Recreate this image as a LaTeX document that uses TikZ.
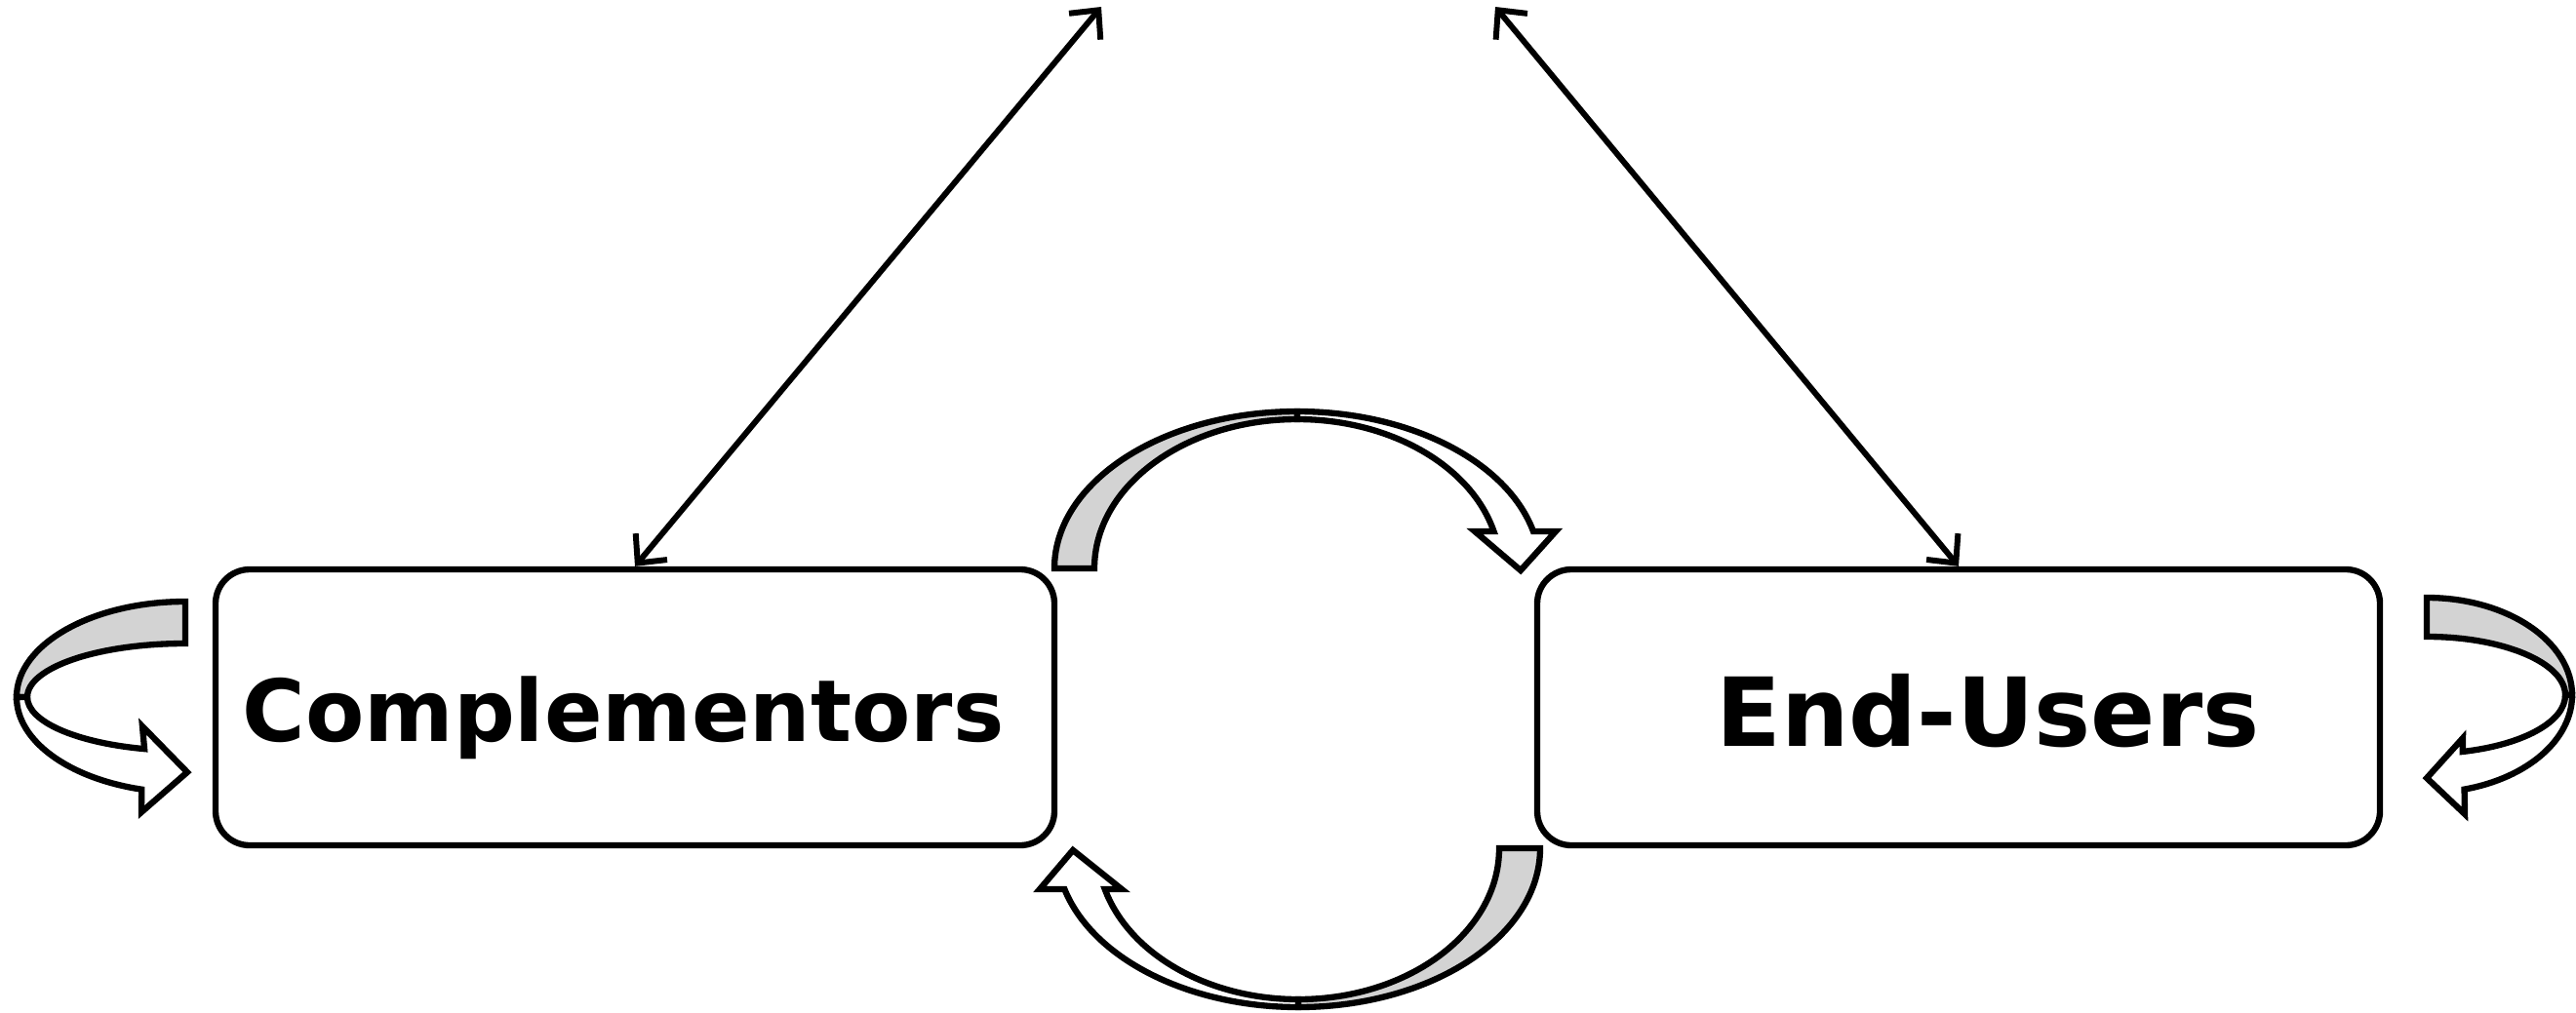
\documentclass[tikz,border=0pt]{standalone}
\usepackage{fontspec}
\setmainfont{DejaVu Sans}
\usetikzlibrary{arrows.meta}
\definecolor{bandgray}{RGB}{211,211,211}

\begin{document}
\begin{tikzpicture}[
    party/.style={draw, line width=1.8pt, rounded corners=0.35cm, minimum height=2.83cm},
    partyname/.style={anchor=base},
    link/.style={<->, >={Straight Barb[length=0.22cm,width=0.42cm]}, line width=1.7pt},
    bandback/.style={draw, line width=1.8pt, fill=bandgray},
    bandfront/.style={draw, line width=1.8pt, fill=white}]
    \useasboundingbox (0,0) rectangle (26.41,10.38);
    % the two sides
    \node[party, minimum width=8.60cm] (comp) at (6.51,3.125) {};
    \node[party, minimum width=8.64cm] (users) at (20.08,3.125) {};
    \node[partyname, font=\bfseries\fontsize{25}{30}\selectfont] (comptext) at (6.39,2.78) {Complementors};
    \node[partyname, font=\bfseries\fontsize{27.8}{34}\selectfont] (userstext) at (20.38,2.73) {End-Users};
    % links to the top
    \coordinate (topL) at (11.29,10.31);
    \coordinate (topR) at (15.33,10.31);
    \draw[link] (comp.north) -- (topL);
    \draw[link] (users.north) -- (topR);
    % self loop, left
    \coordinate (cL) at (1.90,3.23);
    \draw[bandback] ([shift={(cL)}]90:1.73 and 0.98) arc[start angle=90, end angle=180, x radius=1.73, y radius=0.98]
        -- ([shift={(cL)}]180:1.62 and 0.55) arc[start angle=180, end angle=90, x radius=1.62, y radius=0.55] -- cycle;
    \draw[bandfront] ([shift={(cL)}]180:1.73 and 0.98) arc[start angle=180, end angle=255, x radius=1.73, y radius=0.98]
        -- (1.45,2.05) -- (1.92,2.46) -- (1.46,2.93)
        -- ([shift={(cL)}]255:1.62 and 0.55) arc[start angle=255, end angle=180, x radius=1.62, y radius=0.55] -- cycle;
    % self loop, right
    \coordinate (cR) at (24.88,3.25);
    \draw[bandback] ([shift={(cR)}]90:1.49 and 1.00) arc[start angle=90, end angle=0, x radius=1.49, y radius=1.00]
        -- ([shift={(cR)}]0:1.42 and 0.60) arc[start angle=0, end angle=90, x radius=1.42, y radius=0.60] -- cycle;
    \draw[bandfront] ([shift={(cR)}]0:1.49 and 1.00) arc[start angle=0, end angle=-75, x radius=1.49, y radius=1.00]
        -- (25.27,2.03) -- (24.88,2.40) -- (25.25,2.81)
        -- ([shift={(cR)}]-75:1.42 and 0.60) arc[start angle=-75, end angle=0, x radius=1.42, y radius=0.60] -- cycle;
    % arc over the top
    \coordinate (cT) at (13.30,4.55);
    \draw[bandback] ([shift={(cT)}]180:2.49 and 1.61) arc[start angle=180, end angle=90, x radius=2.49, y radius=1.61]
        -- ([shift={(cT)}]90:2.08 and 1.53) arc[start angle=90, end angle=180, x radius=2.08, y radius=1.53] -- cycle;
    \draw[bandfront] ([shift={(cT)}]90:2.49 and 1.61) arc[start angle=90, end angle=13.65, x radius=2.49, y radius=1.61]
        -- (15.95,4.93) -- (15.59,4.53) -- (15.12,4.93)
        -- ([shift={(cT)}]14.38:2.08 and 1.53) arc[start angle=14.38, end angle=90, x radius=2.08, y radius=1.53] -- cycle;
    % arc under the bottom
    \coordinate (cB) at (13.31,1.68);
    \draw[bandback] ([shift={(cB)}]0:2.48 and 1.63) arc[start angle=0, end angle=-90, x radius=2.48, y radius=1.63]
        -- ([shift={(cB)}]-90:2.06 and 1.55) arc[start angle=-90, end angle=0, x radius=2.06, y radius=1.55] -- cycle;
    \draw[bandfront] ([shift={(cB)}]270:2.48 and 1.63) arc[start angle=270, end angle=194.9, x radius=2.48, y radius=1.63]
        -- (10.66,1.26) -- (11.00,1.66) -- (11.50,1.26)
        -- ([shift={(cB)}]195.7:2.06 and 1.55) arc[start angle=195.7, end angle=270, x radius=2.06, y radius=1.55] -- cycle;
\end{tikzpicture}
\end{document}
